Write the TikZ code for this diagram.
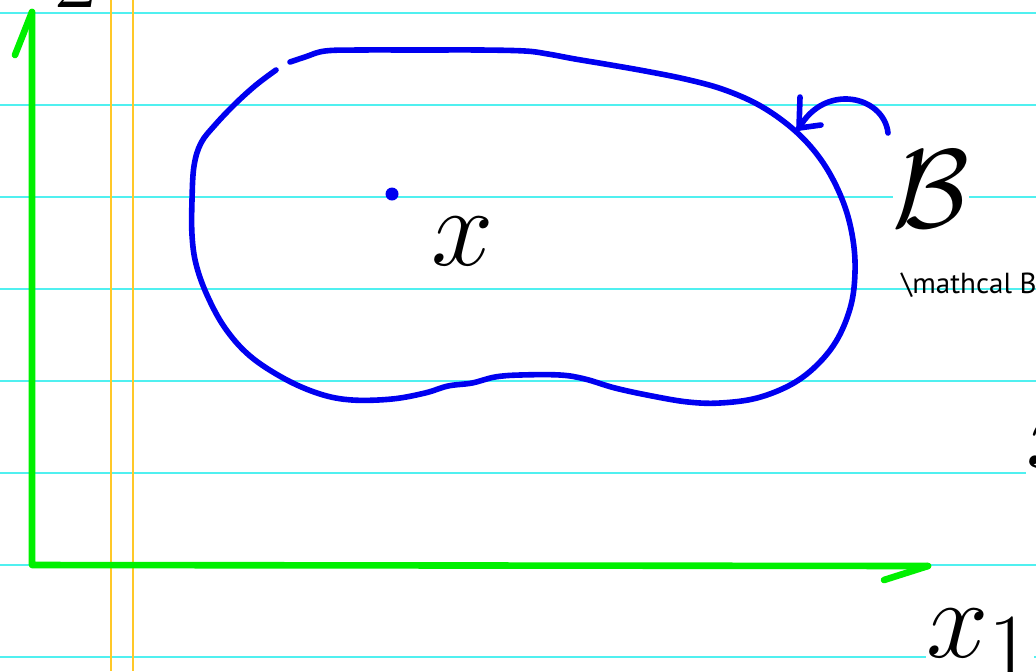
\documentclass[tikz,border=0pt]{standalone}
\usepackage{fontspec}
\usepackage{amsmath}
\usepackage{graphicx}
\usetikzlibrary{positioning}
\newfontfamily\notefont{PT Sans}
\definecolor{rulecolor}{RGB}{80,240,240}
\definecolor{margincolor}{RGB}{255,200,40}
\definecolor{axiscolor}{RGB}{0,240,0}
\definecolor{inkcolor}{RGB}{0,0,240}
\tikzset{
    sheetline/.style={rulecolor, line width=0.8pt},
    marginline/.style={margincolor, line width=0.8pt},
    axis/.style={axiscolor, line width=3.3pt, line cap=round, line join=round},
    ink/.style={inkcolor, line width=2.8pt, line cap=round, line join=round},
    biglabel/.style={fill=white, inner sep=0pt},
    note/.style={inner sep=0pt, font=\notefont\fontsize{14.5}{18}\selectfont}
}
\newcommand{\bigmath}[1]{\scalebox{2.25}{\fontsize{24.88}{30}\selectfont$#1$}}

\begin{document}
\begin{tikzpicture}[x=0.5pt, y=-0.5pt]

    \useasboundingbox (0,0) rectangle (1036,671);
    \clip (0,0) rectangle (1036,671);
    \fill[white] (0,0) rectangle (1036,671);

    % notebook paper
    \foreach \yy in {13,105,197,289,381,473,565,657}
        \draw[sheetline] (0,\yy) -- (1036,\yy);
    \foreach \xx in {111,133}
        \draw[marginline] (\xx,0) -- (\xx,671);

    % axes
    \coordinate (origin) at (32,565);
    \coordinate (ytop) at (32,12);
    \coordinate (xend) at (928,566);
    \draw[axis] (ytop) -- (origin) -- (xend);
    \draw[axis] (ytop) -- ++(-17,43);
    \draw[axis] (xend) -- ++(-44,14);

    \node[biglabel, anchor=base west] (xtwo) at (-8,-14) {\bigmath{x_2}};
    \node[biglabel, anchor=base west] (xone) at (926,657) {\bigmath{x_1}};
    \node[biglabel, anchor=base west] (xthree) at (1026,467) {\bigmath{x_3}};

    % the set
    \draw[ink] plot[smooth, tension=0.6] coordinates {
        (290,62) (305,57) (325,51) (360,50) (420,50) (480,50) (525,51)
        (548,54) (575,59) (605,64) (645,71) (685,79) (722,89) (757,104)
        (787,124) (811,147) (830,174) (845,207) (853,240) (855,272)
        (851,305) (838,338) (818,364) (792,384) (757,398) (720,403)
        (688,402) (652,396) (615,388) (585,379) (560,375) (520,375)
        (495,377) (472,383) (448,386) (425,393) (392,399) (352,400)
        (320,394) (285,379) (250,356) (225,328) (207,295) (196,264)
        (192,235) (192,200) (194,166) (201,143) (215,125) (235,104)
        (256,85) (276,70)};
    \fill[inkcolor] (392,194) circle (6.5);
    \node[biglabel, fill=none, anchor=base west] (xpt) at (431,265) {\bigmath{x}};

    % label of the set
    \node[biglabel, anchor=center] (setB) at (931,189) {\bigmath{\mathcal{B}}};
    \node[note, anchor=base west] (setnote) at (901,293) {\textbackslash mathcal B};
    \coordinate (hookstart) at (888,133);
    \coordinate (hooktip) at (799,128);
    \draw[ink] (hookstart) .. controls (884,96) and (825,82) .. (hooktip);
    \draw[ink] (hooktip) -- ++(1,-31);
    \draw[ink] (hooktip) -- ++(22,-3);

\end{tikzpicture}
\end{document}
